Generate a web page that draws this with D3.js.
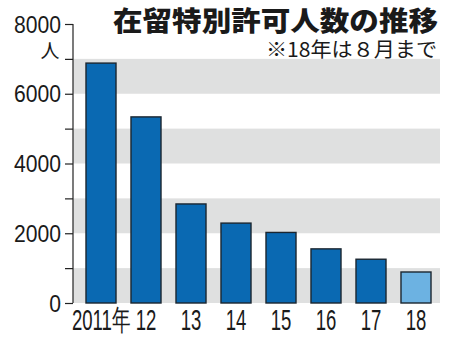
<!DOCTYPE html>
<html>
<head>
<meta charset="utf-8">
<script src="https://cdn.jsdelivr.net/npm/d3@7"></script>
<style>
  html, body { margin: 0; padding: 0; background: #fff; }
  svg { display: block; }
</style>
</head>
<body>
<svg id="chart" width="450" height="337"></svg>
<script>
// 在留特別許可人数（年別）
const years = ["2011年", "12", "13", "14", "15", "16", "17", "18"];
const counts = [6879, 5336, 2840, 2291, 2023, 1552, 1255, 889];
const partialYear = "18";           // 18年は8月までの数
const yTickValues = [0, 2000, 4000, 6000, 8000];
const title = "在留特別許可人数の推移";
const note = "※18年は８月まで";
const unit = "人";

const svg = d3.select("#chart");
const plotLeft = 73, plotRight = 440, plotTop = 24, plotBottom = 303;

const y = d3.scaleLinear().domain([0, 8000]).range([plotBottom, plotTop]);
const x = d3.scaleBand().domain(years).range([78.5, 438.5]).paddingInner(0.333).paddingOuter(0.1665);

const numFont = "'Liberation Sans', Arial, sans-serif";
const cjkFont = "'Noto Sans CJK JP', sans-serif";

// alternating background bands
const bands = [[0, 1000], [2000, 3000], [4000, 5000], [6000, 7000]];
svg.append("g").selectAll("rect").data(bands).join("rect")
  .attr("x", plotLeft)
  .attr("width", plotRight - plotLeft)
  .attr("y", d => y(d[1]))
  .attr("height", d => y(d[0]) - y(d[1]))
  .attr("fill", "#dfe0e0");

// bars
svg.append("g").selectAll("rect").data(years).join("rect")
  .attr("x", d => x(d))
  .attr("width", x.bandwidth())
  .attr("y", (d, i) => y(counts[i]))
  .attr("height", (d, i) => y(0) - y(counts[i]))
  .attr("fill", d => d === partialYear ? "#6cb2e2" : "#0a69b2")
  .attr("stroke", "#1b2630")
  .attr("stroke-width", 1.4);

// y axis with minor ticks every 1000
const yAxis = d3.axisLeft(y)
  .tickValues(d3.range(0, 8001, 1000))
  .tickSize(8)
  .tickFormat("");
const gy = svg.append("g").attr("transform", `translate(${plotLeft},0)`).call(yAxis);
gy.select(".domain").attr("d", `M0,${plotTop}V${plotBottom}`).attr("stroke", "#222").attr("stroke-width", 1.2);
gy.selectAll(".tick line").attr("stroke", "#222").attr("stroke-width", 1.2);

// y tick labels
svg.append("g").selectAll("text").data(yTickValues).join("text")
  .attr("transform", d => `translate(61,${y(d) + 8.5}) scale(0.88,1)`)
  .attr("text-anchor", "end")
  .attr("font-family", numFont)
  .attr("font-size", 24)
  .attr("fill", "#1a1a1a")
  .text(d => d);

// unit
svg.append("text")
  .attr("x", 50).attr("y", 58)
  .attr("text-anchor", "middle")
  .attr("font-family", cjkFont)
  .attr("font-size", 19)
  .attr("fill", "#1a1a1a")
  .text(unit);

// x labels
svg.append("g").selectAll("text").data(years).join("text")
  .attr("transform", d => `translate(${x(d) + x.bandwidth() / 2},330) scale(0.64,1)`)
  .attr("text-anchor", "middle")
  .attr("font-family", numFont)
  .attr("font-size", 29)
  .attr("fill", "#1a1a1a")
  .text(d => d);

// title & note
svg.append("text")
  .attr("x", 113).attr("y", 31)
  .attr("font-family", cjkFont)
  .attr("font-weight", 900)
  .attr("font-size", 27)
  .attr("textLength", 325)
  .attr("lengthAdjust", "spacingAndGlyphs")
  .attr("fill", "#1a1a1a")
  .text(title);

svg.append("text")
  .attr("x", 266).attr("y", 57)
  .attr("font-family", cjkFont)
  .attr("font-size", 20)
  .attr("textLength", 171)
  .attr("lengthAdjust", "spacingAndGlyphs")
  .attr("fill", "#1a1a1a")
  .text(note);
</script>
</body>
</html>
